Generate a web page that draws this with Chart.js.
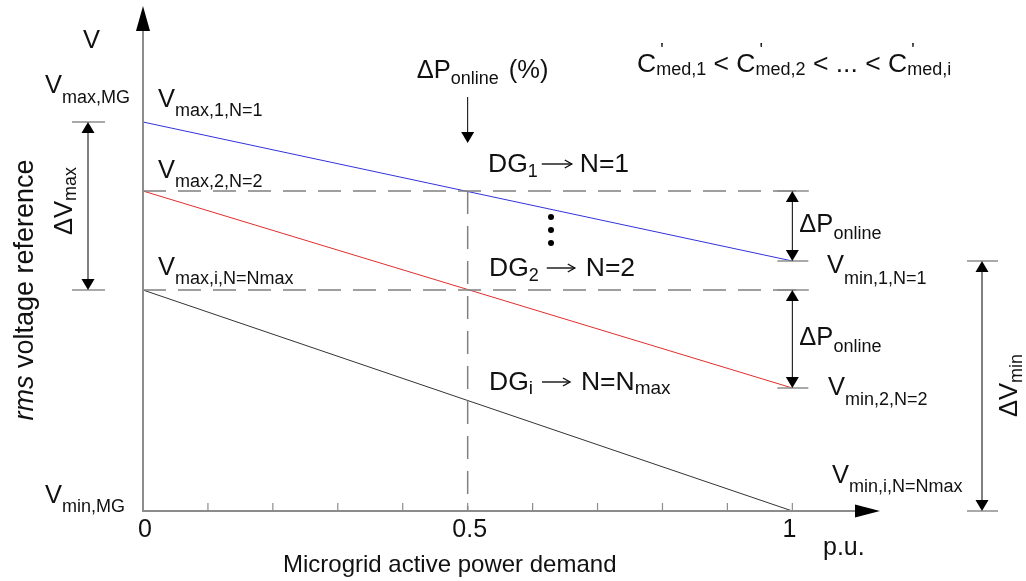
<!DOCTYPE html>
<html>
<head>
<meta charset="utf-8">
<script src="https://cdn.jsdelivr.net/npm/chart.js@4.4.1/dist/chart.umd.min.js"></script>
<style>
  html, body { margin: 0; padding: 0; background: #fff; }
  #wrap { width: 1026px; height: 581px; }
</style>
</head>
<body>
<div id="wrap"><canvas id="chart" width="1026" height="581"></canvas></div>
<script>
  /*
    ==================================================
    ======================= DATA ======================
    ==================================================
  */

  // microgrid active power demand (p.u.)
  let demandPu = [0, 1];

  // voltage reference for each DG droop line (arbitrary units, Vmin,MG = 0)
  let vDG1 = [3.89, 2.50];
  let vDG2 = [3.20, 1.23];
  let vDGi = [2.21, 0];

  // dashed guide levels (Vmax,2 and Vmax,i) and where they stop
  let dashLevels = [3.20, 2.21];
  let dashEndPu = 1.025;
  let onlinePu = 0.5;

  let minorTicks = [0.1, 0.2, 0.3, 0.4, 0.5, 0.6, 0.7, 0.8, 0.9, 1];
  let tickValues = [0, 0.5, 1];
  let tickLabels = ['0', '0.5', '1'];

  let xMax = 1.135;
  let yMax = 5.05;

  /*
    ==================================================
    ===================== HELPERS =====================
    ==================================================
  */

  const FONT = '"Liberation Sans", Arial, sans-serif';

  // parts: [text, kind]  n = normal, i = italic, s = subscript, p = prime, g = gap, a = arrow
  function rich(ctx, x, y, parts, subDy = 9, big = 25.5, small = 18, dry = false) {
    let cx = x;
    parts.forEach(([t, k]) => {
      if (k === 'g') { cx += t; return; }
      if (k === 'a') {
        if (!dry) {
          ctx.save();
          ctx.strokeStyle = ctx.fillStyle;
          ctx.lineWidth = 1.4;
          let ay = y - 8;
          line(ctx, cx, ay, cx + t, ay);
          ctx.beginPath();
          ctx.moveTo(cx + t - 7, ay - 4);
          ctx.lineTo(cx + t, ay);
          ctx.lineTo(cx + t - 7, ay + 4);
          ctx.stroke();
          ctx.restore();
        }
        cx += t;
        return;
      }
      let size = (k === 's' || k === 'p') ? small : big;
      ctx.font = (k === 'i' ? 'italic ' : '') + size + 'px ' + FONT;
      let dy = k === 's' ? subDy : k === 'p' ? -16 : 0;
      if (!dry) ctx.fillText(t, k === 'p' ? cx + 4 : cx, y + dy);
      if (k !== 'p') cx += ctx.measureText(t).width;
    });
    return cx - x;
  }

  function rotated(ctx, x, y, parts, subDy, big = 25.5, center = false) {
    ctx.save();
    ctx.translate(x, y);
    ctx.rotate(-Math.PI / 2);
    let w = center ? rich(ctx, 0, 0, parts, subDy, big, 18, true) : 0;
    rich(ctx, -w / 2, 0, parts, subDy, big, 18);
    ctx.restore();
  }

  function line(ctx, x1, y1, x2, y2) {
    ctx.beginPath();
    ctx.moveTo(x1, y1);
    ctx.lineTo(x2, y2);
    ctx.stroke();
  }

  function head(ctx, tx, ty, dir, hw, len) {
    ctx.beginPath();
    ctx.moveTo(tx, ty);
    if (dir === 'up') { ctx.lineTo(tx - hw, ty + len); ctx.lineTo(tx + hw, ty + len); }
    if (dir === 'down') { ctx.lineTo(tx - hw, ty - len); ctx.lineTo(tx + hw, ty - len); }
    if (dir === 'right') { ctx.lineTo(tx - len, ty - hw); ctx.lineTo(tx - len, ty + hw); }
    ctx.closePath();
    ctx.fill();
  }

  function dimArrow(ctx, x, yA, yB) {
    ctx.strokeStyle = '#000';
    ctx.lineWidth = 1;
    line(ctx, x, yA + 6, x, yB - 6);
    head(ctx, x, yA, 'up', 6.5, 11);
    head(ctx, x, yB, 'down', 6.5, 11);
  }

  /*
    ==================================================
    =================== ANNOTATIONS ===================
    ==================================================
  */

  let annotations = {
    id: 'annotations',
    afterDraw(chart) {
      let { ctx, scales: { x, y } } = chart;
      let px = v => x.getPixelForValue(v);
      let py = v => y.getPixelForValue(v);
      let x0 = px(0), y0 = py(0), xEnd = px(xMax), yTop = py(yMax);
      let x1 = px(1);

      ctx.save();

      // axes
      ctx.strokeStyle = '#8c8c8c';
      ctx.lineWidth = 2;
      line(ctx, x0, y0, x0, yTop + 20);
      line(ctx, x0 - 1, y0, xEnd - 20, y0);
      ctx.fillStyle = '#000';
      head(ctx, x0, yTop, 'up', 7, 25);
      head(ctx, xEnd, y0, 'right', 6.5, 25);

      ctx.lineWidth = 1.2;
      minorTicks.forEach(t => line(ctx, px(t), y0, px(t), y0 - 8));

      // dimension ticks
      ctx.strokeStyle = '#8c8c8c';
      ctx.lineWidth = 1.5;
      [vDG1[0], vDGi[0]].forEach(v => line(ctx, 72, py(v), 105, py(v)));
      [dashLevels[0], vDG1[1], dashLevels[1], vDG2[1]].forEach(v => line(ctx, x1 - 15, py(v), x1 + 16, py(v)));
      [vDG1[1], 0].forEach(v => line(ctx, 967, py(v), 998, py(v)));

      // arrows
      ctx.fillStyle = '#000';
      dimArrow(ctx, 88, py(vDG1[0]), py(vDGi[0]));
      dimArrow(ctx, x1, py(dashLevels[0]), py(vDG1[1]));
      dimArrow(ctx, x1, py(dashLevels[1]), py(vDG2[1]));
      dimArrow(ctx, 982, py(vDG1[1]), py(0));

      let xo = px(onlinePu);
      ctx.strokeStyle = '#000';
      ctx.lineWidth = 1;
      line(ctx, xo, 97, xo, 135);
      head(ctx, xo, 143, 'down', 6.5, 11);

      // dots between DG1 and DG2
      [217, 230, 243].forEach(d => {
        ctx.beginPath();
        ctx.arc(551, d, 3, 0, Math.PI * 2);
        ctx.fill();
      });

      // texts
      ctx.fillStyle = '#111';
      ctx.textBaseline = 'alphabetic';
      ctx.textAlign = 'left';

      rich(ctx, 83, 48, [['V', 'n']]);
      rich(ctx, 45, 93, [['V', 'n'], ['max,MG', 's']], 10);
      rich(ctx, x0 + 15, py(vDG1[0]) - 15, [['V', 'n'], ['max,1,N=1', 's']]);
      rich(ctx, x0 + 15, py(vDG2[0]) - 13, [['V', 'n'], ['max,2,N=2', 's']]);
      rich(ctx, x0 + 15, py(vDGi[0]) - 15, [['V', 'n'], ['max,i,N=Nmax', 's']]);

      rich(ctx, xo - 51, 78, [['ΔP', 'n'], ['online', 's'], [10, 'g'], ['(%)', 'n']], 6);
      rich(ctx, 488, 172, [['DG', 'n'], ['1', 's'], [4, 'g'], [30, 'a'], [8, 'g'], ['N=1', 'n']], 5, 26.5);
      rich(ctx, 489, 276, [['DG', 'n'], ['2', 's'], [8, 'g'], [28, 'a'], [11, 'g'], ['N=2', 'n']], 5, 26.5);
      rich(ctx, 489, 390, [['DG', 'n'], ['i', 's'], [9, 'g'], [28, 'a'], [11, 'g'], ['N=N', 'n'], ['max', 's']], 4, 26.5, 19);

      rich(ctx, 637, 72, [
        ['C', 'n'], ["'", 'p'], ['med,1', 's'], [' < ', 'n'],
        ['C', 'n'], ["'", 'p'], ['med,2', 's'], [' < ... < ', 'n'],
        ['C', 'n'], ["'", 'p'], ['med,i', 's']
      ], 3, 26.5);

      rich(ctx, x1 + 7, 232, [['ΔP', 'n'], ['online', 's']], 7);
      rich(ctx, x1 + 7, 345, [['ΔP', 'n'], ['online', 's']], 7);

      rich(ctx, 827, 273, [['V', 'n'], ['min,1,N=1', 's']], 11);
      rich(ctx, 828, 395, [['V', 'n'], ['min,2,N=2', 's']], 10);
      rich(ctx, 832, 483, [['V', 'n'], ['min,i,N=Nmax', 's']], 9);
      rich(ctx, 45, 503, [['V', 'n'], ['min,MG', 's']], 9);

      rotated(ctx, 72, 235, [['ΔV', 'n'], ['max', 's']], 4);
      rotated(ctx, 1017, 417, [['ΔV', 'n'], ['min', 's']], 5);
      rotated(ctx, 33, 290, [['rms', 'i'], [' voltage reference', 'n']], 0, 27, true);

      // axis labels
      ctx.font = '25px ' + FONT;
      ctx.textAlign = 'center';
      tickValues.forEach((v, i) => ctx.fillText(tickLabels[i], px(v) + (v === 1 ? -3 : 2), 537));
      ctx.textAlign = 'left';
      ctx.fillText('p.u.', 823, 555);
      ctx.font = '24px ' + FONT;
      ctx.fillText('Microgrid active power demand', 283, 572);

      ctx.restore();
    }
  };

  /*
    ==================================================
    ====================== CHART ======================
    ==================================================
  */

  let pts = arr => demandPu.map((d, i) => ({ x: d, y: arr[i] }));
  let level = v => [{ x: 0, y: v }, { x: dashEndPu, y: v }];
  let dashStyle = { borderColor: '#808080', borderWidth: 1.5, borderDash: [23, 12], clip: false };

  new Chart(document.getElementById('chart').getContext('2d'), {
    type: 'line',
    data: {
      datasets: [
        { ...dashStyle, data: level(dashLevels[0]) },
        { ...dashStyle, data: level(dashLevels[1]) },
        { ...dashStyle, data: [{ x: onlinePu, y: dashLevels[0] }, { x: onlinePu, y: 0 }] },
        { data: pts(vDG1), borderColor: 'rgb(50, 50, 220)', borderWidth: 1, clip: false },
        { data: pts(vDG2), borderColor: 'rgb(225, 45, 45)', borderWidth: 1, clip: false },
        { data: pts(vDGi), borderColor: '#333', borderWidth: 1, clip: false }
      ]
    },
    options: {
      responsive: false,
      animation: false,
      layout: { padding: { left: 143, right: 146, top: 6, bottom: 70 } },
      elements: { point: { radius: 0 }, line: { tension: 0 } },
      scales: {
        x: { type: 'linear', min: 0, max: xMax, display: false },
        y: { type: 'linear', min: 0, max: yMax, display: false }
      },
      plugins: { legend: { display: false }, tooltip: { enabled: false } }
    },
    plugins: [annotations]
  });
</script>
</body>
</html>
